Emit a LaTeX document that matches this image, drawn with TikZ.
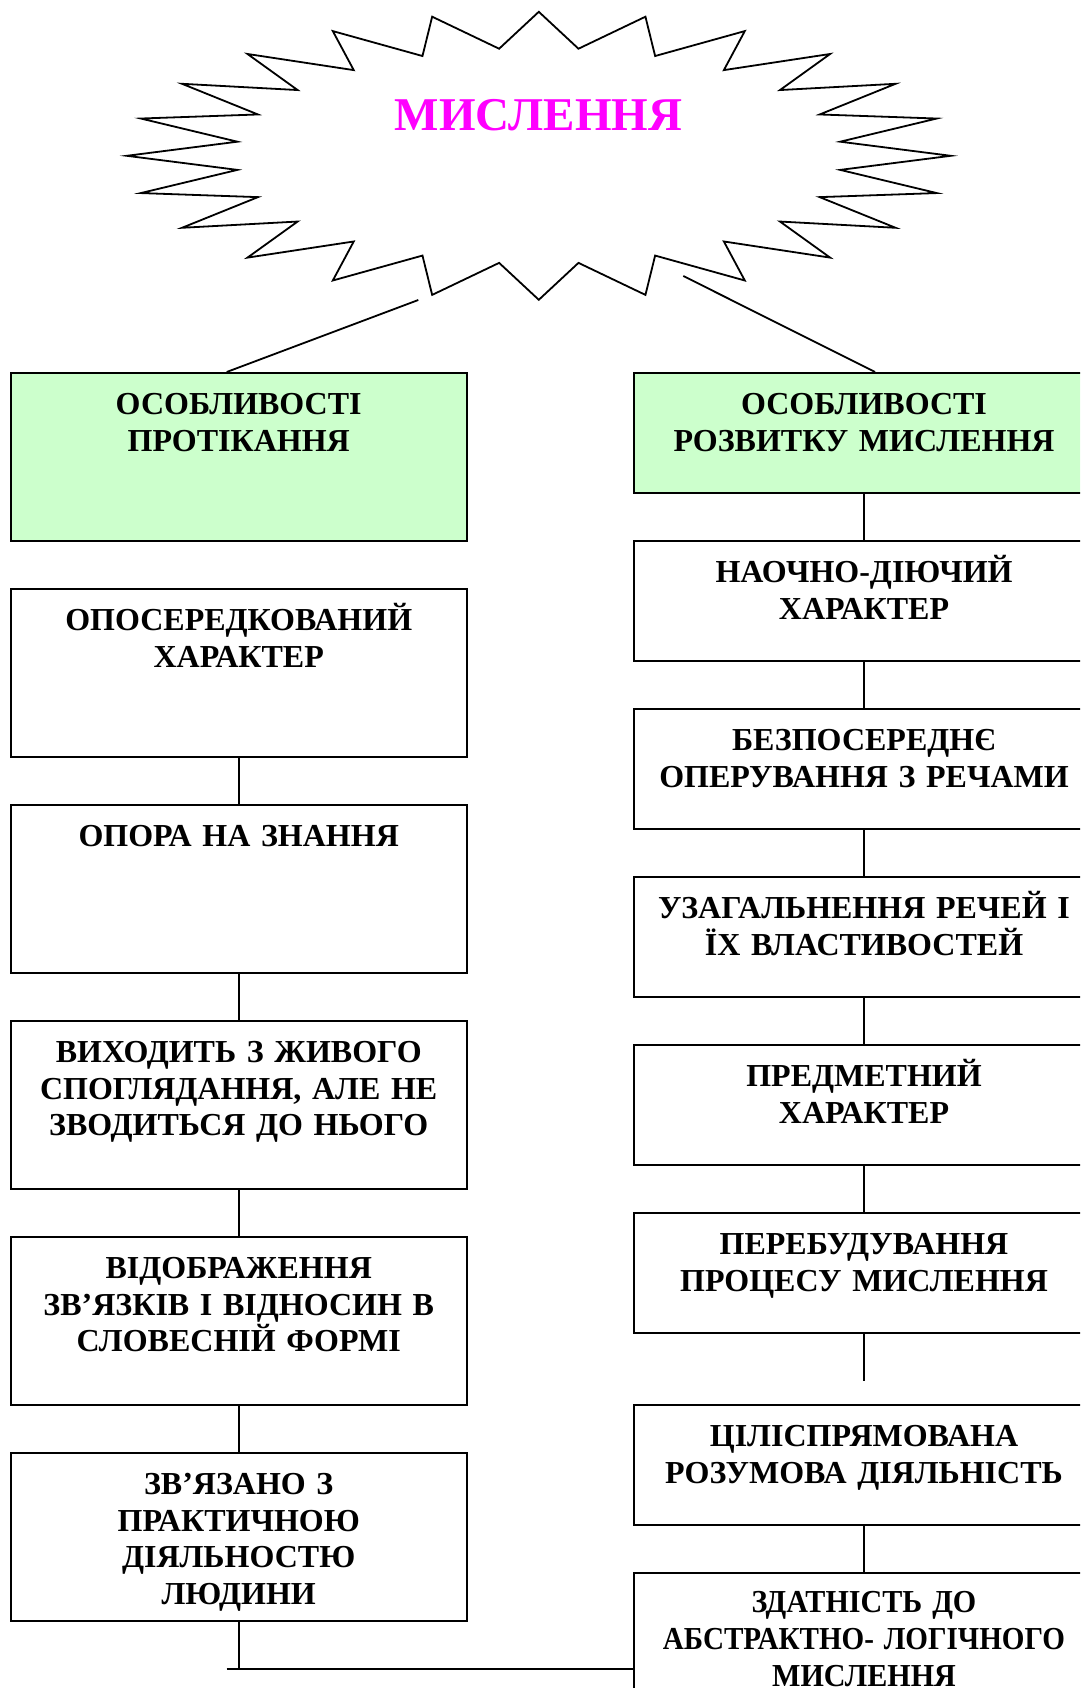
\documentclass[tikz,border=0pt]{standalone}
\usepackage{fontspec}
\setmainfont{Liberation Serif}
\usepackage{graphicx}
\usepackage{tikz}
\usetikzlibrary{positioning,calc}
\definecolor{headgreen}{HTML}{CCFFCC}
\definecolor{titlemagenta}{HTML}{FF00FF}

\begin{document}
\begin{tikzpicture}[x=1pt,y=-1pt,line width=1.8pt,
                       left box/.style={draw,rectangle,anchor=north,inner xsep=4pt,inner ysep=0pt,
                         text width=448pt,align=center,text height=41.5pt,text depth=126.5pt,
                         font=\fontsize{32}{36.7}\selectfont\bfseries},
                       right box/.style={left box,text width=452pt,text depth=78.5pt},
                       head/.style={fill=headgreen}
                      ]
  \useasboundingbox (0,0) rectangle (1080,1688);
  \clip (0,0) rectangle (1080,1688);
  % star
  \draw (538.8,11.8) \foreach \a in {0,15,...,345} {
      -- ({538.8+412*sin(\a)},{155.8-144*cos(\a)})
      -- ({538.8+304*sin(\a+7.5)},{155.8-108*cos(\a+7.5)}) } -- cycle;
  \node[anchor=base,inner sep=0pt,text=titlemagenta,font=\fontsize{47}{50}\selectfont\bfseries]
    (mysl) at (538.5,131) {МИСЛЕННЯ};
  \coordinate (sl) at (418.3,300.0);
  \coordinate (sr) at (683.3,276.0);
  % left column
  \node[left box,head] (l1) at (238.7,372) {ОСОБЛИВОСТІ\\ПРОТІКАННЯ};
  \node[left box] (l2) at (238.7,588) {ОПОСЕРЕДКОВАНИЙ\\ХАРАКТЕР};
  \node[left box] (l3) at (238.7,804) {ОПОРА НА ЗНАННЯ};
  \node[left box] (l4) at (238.7,1020) {ВИХОДИТЬ З ЖИВОГО\\СПОГЛЯДАННЯ, АЛЕ НЕ\\ЗВОДИТЬСЯ ДО НЬОГО};
  \node[left box] (l5) at (238.7,1236) {ВІДОБРАЖЕННЯ\\ЗВ’ЯЗКІВ І ВІДНОСИН В\\СЛОВЕСНІЙ ФОРМІ};
  \node[left box] (l6) at (238.7,1452) {ЗВ’ЯЗАНО З\\ПРАКТИЧНОЮ\\ДІЯЛЬНОСТЮ\\ЛЮДИНИ};
  % right column
  \node[right box,head] (r1) at (864,372) {ОСОБЛИВОСТІ\\РОЗВИТКУ МИСЛЕННЯ};
  \node[right box] (r2) at (864,540) {НАОЧНО-ДІЮЧИЙ\\ХАРАКТЕР};
  \node[right box] (r3) at (864,708) {БЕЗПОСЕРЕДНЄ\\ОПЕРУВАННЯ З РЕЧАМИ};
  \node[right box] (r4) at (864,876) {УЗАГАЛЬНЕННЯ РЕЧЕЙ І\\ЇХ ВЛАСТИВОСТЕЙ};
  \node[right box] (r5) at (864,1044) {ПРЕДМЕТНИЙ\\ХАРАКТЕР};
  \node[right box] (r6) at (864,1212) {ПЕРЕБУДУВАННЯ\\ПРОЦЕСУ МИСЛЕННЯ};
  \node[right box] (r7) at (864,1404) {ЦІЛІСПРЯМОВАНА\\РОЗУМОВА ДІЯЛЬНІСТЬ};
  \node[right box,text height=40pt] (r8) at (864,1572)
    {\scalebox{0.94}[1]{ЗДАТНІСТЬ ДО}\\\scalebox{0.91}[1]{АБСТРАКТНО- ЛОГІЧНОГО}\\\scalebox{0.94}[1]{МИСЛЕННЯ}};
  \coordinate (r6end) at (864,1380.7);
  \coordinate (bl) at (226.7,1669);
  % connectors
  \draw (sl) -- ($(l1.north)+(-12,0)$);
  \draw (sr) -- ($(r1.north)+(11,0)$);
  \path%
    (l2) edge (l3)
    (l3) edge (l4)
    (l4) edge (l5)
    (l5) edge (l6)
    (r1) edge (r2)
    (r2) edge (r3)
    (r3) edge (r4)
    (r4) edge (r5)
    (r5) edge (r6)
    (r7) edge (r8);
  \draw (r6.south) -- (r6end);
  \draw (l6.south) -- (l6.south |- bl);
  \draw (bl) -- (bl -| r8.west);
\end{tikzpicture}
\end{document}
